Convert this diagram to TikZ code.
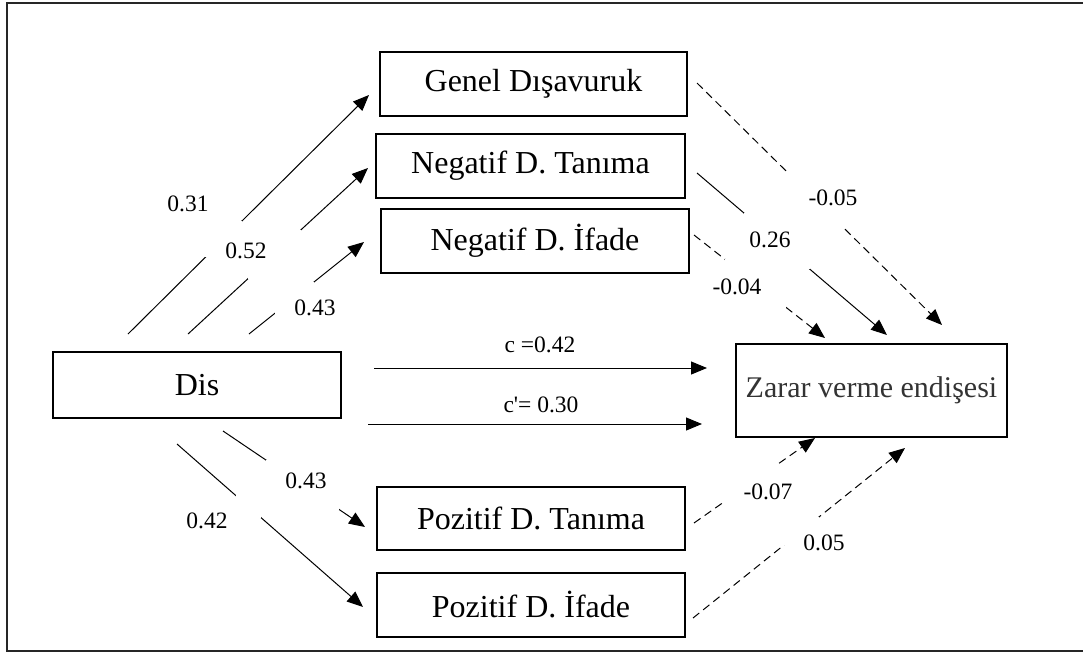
\documentclass[tikz,border=0pt]{standalone}
\usepackage{fontspec}
\setmainfont{Liberation Serif}
\usetikzlibrary{arrows.meta}
\definecolor{zgray}{HTML}{333333}
\tikzset{
  box/.style={draw, line width=1.1pt, inner sep=0pt, font=\fontsize{32}{38}\selectfont},
  lbl/.style={inner sep=0pt, font=\fontsize{23.5}{28}\selectfont},
  conn/.style={line width=1pt, -{Triangle[length=16pt,width=13pt]}},
  dconn/.style={conn, dash pattern=on 8pt off 5pt},
  gap/.style={fill=white, inner sep=0pt, outer sep=0pt}
}
\begin{document}
\begin{tikzpicture}[x=1pt,y=-1pt]
\useasboundingbox (0,0) rectangle (1083,653);
\fill[white] (0,0) rectangle (1083,653);
\begin{scope}
\clip (0,0) rectangle (1083,653);
\draw[line width=1.5pt, black!85] (7,3) rectangle (1095,651);
\end{scope}

% boxes
\node[box, minimum width=307pt, minimum height=64pt] (gen) at (533.5,84) {Genel Dışavuruk};
\node[box, minimum width=309pt, minimum height=64pt] (ntan) at (530.5,166) {Negatif D. Tanıma};
\node[box, minimum width=308pt, minimum height=64pt] (nifd) at (535,241) {Negatif D. İfade};
\node[box, minimum width=288pt, minimum height=66pt] (dis) at (197,385) {Dis};
\node[box, minimum width=271pt, minimum height=93pt, text=zgray, font=\fontsize{30}{36}\selectfont] (zar) at (871.5,390.5) {Zarar verme endişesi};
\node[box, minimum width=308pt, minimum height=63pt] (ptan) at (531,518.5) {Pozitif D. Tanıma};
\node[box, minimum width=308pt, minimum height=64pt] (pifd) at (531,605) {Pozitif D. İfade};

% free ends
\coordinate (s1) at (128,334);  \coordinate (e1) at (369,95);
\coordinate (s2) at (188,334);  \coordinate (e2) at (368,168);
\coordinate (s3) at (249,334);  \coordinate (e3) at (364,242);
\coordinate (s4) at (223,431);  \coordinate (e4) at (365,527);
\coordinate (s5) at (177,444);  \coordinate (e5) at (363,607);
\coordinate (s6) at (374,368);  \coordinate (e6) at (707,368);
\coordinate (s7) at (368,424);  \coordinate (e7) at (702,424);
\coordinate (s8) at (697,83);   \coordinate (e8) at (942,325);
\coordinate (s9) at (697,173);  \coordinate (e9) at (887,335);
\coordinate (s10) at (694,235); \coordinate (e10) at (825,338);
\coordinate (s11) at (694,523); \coordinate (e11) at (815,438);
\coordinate (s12) at (693,618); \coordinate (e12) at (905,448);

% Dis -> mediators
\draw[conn] (s1) -- node[gap, pos=0.396, minimum width=37pt, minimum height=36pt] (g1) {} (e1);
\draw[conn] (s2) -- node[gap, pos=0.48, minimum width=53pt, minimum height=49pt] (g2) {} (e2);
\draw[conn] (s3) -- node[gap, pos=0.396, minimum width=39pt, minimum height=32pt] (g3) {} (e3);
\draw[conn] (s4) -- node[gap, pos=0.56, minimum width=73pt, minimum height=50pt] (g4) {} (e4);
\draw[conn] (s5) -- node[gap, pos=0.384, minimum width=25pt, minimum height=23pt] (g5) {} (e5);

% direct paths
\draw[conn] (s6) -- (e6);
\draw[conn] (s7) -- (e7);

% mediators -> Zarar
\draw[dconn] (s8) -- node[gap, pos=0.484, minimum width=55pt, minimum height=55pt] (g8) {} (e8);
\draw[conn] (s9) -- node[gap, pos=0.421, minimum width=66pt, minimum height=56pt] (g9) {} (e9);
\draw[dconn] (s10) -- node[gap, pos=0.47, minimum width=61pt, minimum height=49pt] (g10) {} (e10);
\draw[dconn] (s11) -- node[gap, pos=0.467, minimum width=55pt, minimum height=39pt] (g11) {} (e11);
\draw[dconn] (s12) -- node[gap, pos=0.509, minimum width=36pt, minimum height=28pt] (g12) {} (e12);

% labels
\node[lbl] (l1) at (188,204) {0.31};
\node[lbl] (l2) at (246,251) {0.52};
\node[lbl] (l3) at (315,308) {0.43};
\node[lbl] (l4) at (306,481) {0.43};
\node[lbl] (l5) at (207,521) {0.42};
\node[lbl] (l6) at (540,345) {c =0.42};
\node[lbl] (l7) at (541,405) {c\textquotesingle= 0.30};
\node[lbl] (l8) at (833,198) {-0.05};
\node[lbl] (l9) at (770,240) {0.26};
\node[lbl] (l10) at (737,287) {-0.04};
\node[lbl] (l11) at (768,492) {-0.07};
\node[lbl] (l12) at (824,543) {0.05};
\end{tikzpicture}
\end{document}
